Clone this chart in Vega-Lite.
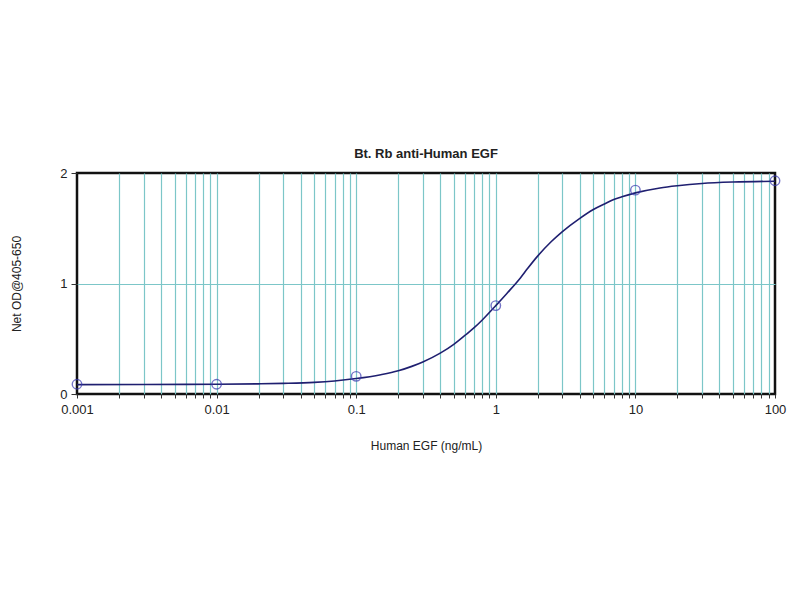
{
  "$schema": "https://vega.github.io/schema/vega-lite/v6.json",
  "autosize": {"type": "none"},
  "width": 698,
  "height": 221,
  "padding": {"left": 77, "top": 173, "right": 25, "bottom": 206},
  "background": "white",
  "title": {
    "text": "Bt. Rb anti-Human EGF",
    "font": "Liberation Sans",
    "fontSize": 13,
    "fontWeight": "bold",
    "color": "#222222",
    "offset": 6
  },
  "datasets": {
    "curve": [
      {"conc": 0.001, "od": 0.085},
      {"conc": 0.003, "od": 0.086},
      {"conc": 0.01, "od": 0.088},
      {"conc": 0.02, "od": 0.092},
      {"conc": 0.03, "od": 0.096},
      {"conc": 0.05, "od": 0.105},
      {"conc": 0.07, "od": 0.118},
      {"conc": 0.1, "od": 0.14},
      {"conc": 0.15, "od": 0.175},
      {"conc": 0.2, "od": 0.21},
      {"conc": 0.25, "od": 0.25},
      {"conc": 0.3, "od": 0.29},
      {"conc": 0.4, "od": 0.37},
      {"conc": 0.5, "od": 0.45},
      {"conc": 0.6, "od": 0.53},
      {"conc": 0.7, "od": 0.6},
      {"conc": 0.8, "od": 0.67},
      {"conc": 1, "od": 0.8},
      {"conc": 1.2, "od": 0.91},
      {"conc": 1.5, "od": 1.05},
      {"conc": 1.7, "od": 1.14},
      {"conc": 2, "od": 1.25},
      {"conc": 2.5, "od": 1.38},
      {"conc": 3, "od": 1.47},
      {"conc": 4, "od": 1.59},
      {"conc": 5, "od": 1.67},
      {"conc": 6, "od": 1.72},
      {"conc": 7, "od": 1.76},
      {"conc": 8, "od": 1.785},
      {"conc": 10, "od": 1.82},
      {"conc": 15, "od": 1.865},
      {"conc": 20, "od": 1.885},
      {"conc": 30, "od": 1.905},
      {"conc": 50, "od": 1.918},
      {"conc": 100, "od": 1.925}
    ],
    "points": [
      {"conc": 0.001, "od": 0.088},
      {"conc": 0.01, "od": 0.088},
      {"conc": 0.1, "od": 0.16},
      {"conc": 1, "od": 0.8},
      {"conc": 10, "od": 1.845},
      {"conc": 100, "od": 1.93}
    ]
  },
  "encoding": {
    "x": {
      "field": "conc",
      "type": "quantitative",
      "scale": {"type": "log", "domain": [0.001, 100], "nice": false},
      "axis": {
        "title": "Human EGF (ng/mL)",
        "values": [0.001, 0.002, 0.003, 0.004, 0.005, 0.006, 0.007, 0.008, 0.009,
                   0.01, 0.02, 0.03, 0.04, 0.05, 0.06, 0.07, 0.08, 0.09,
                   0.1, 0.2, 0.3, 0.4, 0.5, 0.6, 0.7, 0.8, 0.9,
                   1, 2, 3, 4, 5, 6, 7, 8, 9,
                   10, 20, 30, 40, 50, 60, 70, 80, 90, 100],
        "labelExpr": "indexof([0.001, 0.01, 0.1, 1, 10, 100], datum.value) >= 0 ? datum.label : ''",
        "format": "~g",
        "labelFlush": false,
        "labelOverlap": false,
        "grid": true,
        "gridColor": {
          "condition": {"test": "datum.value > 0.001 && datum.value < 100", "value": "#7cc6c8"},
          "value": "transparent"
        },
        "gridWidth": 1.2,
        "gridOpacity": 1,
        "tickSize": 4,
        "tickColor": "#333333",
        "labelPadding": 5,
        "labelFontSize": 13,
        "titlePadding": 24
      }
    },
    "y": {
      "field": "od",
      "type": "quantitative",
      "scale": {"domain": [0, 2], "nice": false},
      "axis": {
        "title": "Net OD@405-650",
        "values": [0, 1, 2],
        "labelExpr": "format(datum.value, '~g')",
        "labelOverlap": false,
        "grid": true,
        "gridColor": {
          "condition": {"test": "datum.value == 1", "value": "#7cc6c8"},
          "value": "transparent"
        },
        "gridWidth": 1.2,
        "gridOpacity": 1,
        "tickSize": 6,
        "tickColor": "#333333",
        "labelPadding": 4,
        "labelFontSize": 13,
        "titlePadding": 36
      }
    }
  },
  "layer": [
    {
      "data": {"name": "curve"},
      "mark": {"type": "line", "interpolate": "monotone", "color": "#1f1f70", "strokeWidth": 1.6}
    },
    {
      "data": {"name": "points"},
      "mark": {"type": "point", "shape": "circle", "filled": false, "size": 90, "color": "#3a3ab0", "strokeWidth": 1.4}
    }
  ],
  "config": {
    "view": {"stroke": "#111111", "strokeWidth": 2.5},
    "axis": {
      "domain": false,
      "labelFont": "Liberation Sans",
      "labelFontSize": 12,
      "labelColor": "#222222",
      "titleFont": "Liberation Sans",
      "titleFontSize": 12,
      "titleFontWeight": "normal",
      "titleColor": "#222222"
    }
  }
}
